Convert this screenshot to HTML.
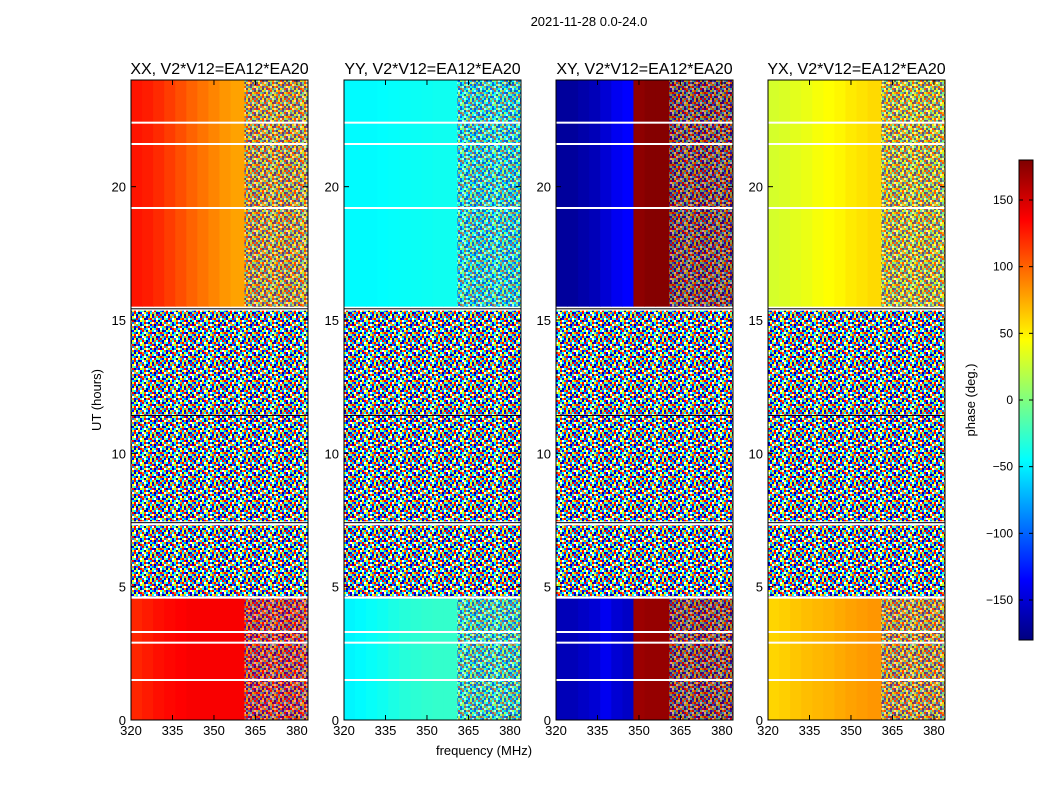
<!DOCTYPE html>
<html><head><meta charset="utf-8">
<style>
body{margin:0;background:#fff;}
svg text{font-family:"Liberation Sans",sans-serif;}
</style></head>
<body>
<svg id="fig" width="1050" height="800" viewBox="0 0 1050 800" xmlns="http://www.w3.org/2000/svg">
<defs>
<linearGradient id="jet" x1="0" y1="1" x2="0" y2="0">
<stop offset="0" stop-color="#00007f"/><stop offset="0.125" stop-color="#0000ff"/>
<stop offset="0.375" stop-color="#00ffff"/><stop offset="0.625" stop-color="#ffff00"/>
<stop offset="0.875" stop-color="#ff0000"/><stop offset="1" stop-color="#7f0000"/>
</linearGradient>
<pattern id="noise" patternUnits="userSpaceOnUse" width="32" height="24"><g id="noiseg"></g></pattern>
</defs>
<text x="589" y="26" font-size="13" text-anchor="middle">2021-11-28 0.0-24.0</text>
<text transform="translate(101,400) rotate(-90)" font-size="13" text-anchor="middle">UT (hours)</text>
<text x="484" y="755" font-size="13" text-anchor="middle">frequency (MHz)</text>
<g id="panels"></g>
<g id="cbar">
<rect x="1019" y="160" width="14" height="480" fill="url(#jet)" stroke="#000"/>
</g>
<text transform="translate(975,400) rotate(-90)" font-size="13" text-anchor="middle">phase (deg.)</text>
</svg>
<script>
const panelTitles=["XX, V2*V12=EA12*EA20","YY, V2*V12=EA12*EA20","XY, V2*V12=EA12*EA20","YX, V2*V12=EA12*EA20"];
const panelX=[131,344,556,768];
const segStart=[0,4.6,7.45,11.45,15.5];
const segEnd=[4.55,7.3,11.4,15.35,24];
const segType=["c","n","n","n","c"];
const freqBins=[320,324,328,332,336,340,344,348,352,356];
const seg0XX=[122,126,130,133,135,137,137,137,137,137];
const seg4XX=[128,125,120,114,107,100,94,88,82,78];
const seg0YY=[-48,-46,-43,-40,-36,-32,-30,-28,-27,-27];
const seg4YY=[-46,-46,-46,-45,-44,-43,-42,-41,-40,-40];
const seg0XY=[-160,-160,-155,-150,-140,-150,-155,170,172,172];
const seg4XY=[-170,-170,-165,-160,-150,-140,-135,175,178,178];
const seg0YX=[60,62,65,68,70,72,75,78,80,82];
const seg4YX=[30,32,35,38,42,45,48,52,55,58];
const coherent=[[seg0XX,seg4XX],[seg0YY,seg4YY],[seg0XY,seg4XY],[seg0YX,seg4YX]];
const whiteLines=[1.5,2.9,3.3,4.6,7.35,15.45,19.2,21.6,22.4];
const yTicks=[0,5,10,15,20];
const xTicks=[320,335,350,365,380];
const cbTicks=[-150,-100,-50,0,50,100,150];
const fringeStart=361, fMin=320, fMax=384, tMax=24;
const NS="http://www.w3.org/2000/svg";
const PW=177, PT=80, PB=720;
function jet(v){let t=(v+180)/360;t=Math.max(0,Math.min(1,t));
 const f=(x)=>Math.max(0,Math.min(1,1.5-Math.abs(4*t-x)));
 return `rgb(${Math.round(255*f(3))},${Math.round(255*f(2))},${Math.round(255*f(1))})`;}
function ys(h){return PB-(h/tMax)*(PB-PT);}
function xs(x0,f){return x0+(f-fMin)/(fMax-fMin)*PW;}
function el(tag,attrs,parent){const e=document.createElementNS(NS,tag);for(const k in attrs)e.setAttribute(k,attrs[k]);parent.appendChild(e);return e;}
const noiseStr="351627084162537062047351820473611748052637140526503261847056318228671043582160477415830261748503068352714830571642501638756210388137406512874260370428163045281765217402831607451046852374518623";
const noiseCols=["#0000ff","#0080ff","#00ffff","#80ff80","#ffff00","#ff8000","#ff0000","#0000a0","#ffffff"];
const ng=document.getElementById('noiseg');
for(let r=0;r<12;r++)for(let c=0;c<16;c++){const d=+noiseStr[(r*16+c)%noiseStr.length]||0;
 el('rect',{x:c*2,y:r*2,width:2,height:2,fill:noiseCols[d]},ng);}
const panels=document.getElementById('panels');
panelX.forEach((x0,p)=>{
 const g=el('g',{},panels);
 
 
 segStart.forEach((s,si)=>{
  const y1=ys(segEnd[si]), y2=ys(s);
  if(segType[si]==="n"){
   const r=el('rect',{x:x0,y:y1,width:PW,height:y2-y1,fill:'url(#noise)'},g);
   
   
  } else {
   const vals=coherent[p][si===0?0:1];
   freqBins.forEach((f,bi)=>{
    const fe=bi<freqBins.length-1?freqBins[bi+1]:fringeStart;
    const r=el('rect',{x:xs(x0,f),y:y1,width:xs(x0,fe)-xs(x0,f)+0.5,height:y2-y1,fill:jet(vals[bi])},g);
    
    
   });
   const last=vals[vals.length-1];
   el('rect',{x:xs(x0,fringeStart),y:y1,width:xs(x0,fMax)-xs(x0,fringeStart),height:y2-y1,fill:jet(last)},g);
   const fr=el('rect',{x:xs(x0,fringeStart),y:y1,width:xs(x0,fMax)-xs(x0,fringeStart),height:y2-y1,fill:'url(#noise)',opacity:0.6},g);
   
   
  }
 });
 whiteLines.forEach(h=>{el('rect',{x:x0,y:ys(h)-1,width:PW,height:2,fill:'#fff'},g);});
 el('rect',{x:x0,y:ys(15.42)-0.5,width:PW,height:1,fill:'#000'},g);
 el('rect',{x:x0,y:ys(7.4)-0.5,width:PW,height:1,fill:'#000'},g);
 el('rect',{x:x0,y:ys(11.42)-0.5,width:PW,height:1,fill:'#000'},g);
 el('rect',{x:x0,y:PT,width:PW,height:PB-PT,fill:'none',stroke:'#000','stroke-width':1},g);
 const t=el('text',{x:x0+PW/2,y:74,'font-size':16,'text-anchor':'middle'},g);t.textContent=panelTitles[p];
 
 
 yTicks.forEach(v=>{const y=ys(v);
  el('line',{x1:x0,x2:x0+5,y1:y,y2:y,stroke:'#000'},g);el('line',{x1:x0+PW,x2:x0+PW-5,y1:y,y2:y,stroke:'#000'},g);
  const l=el('text',{x:x0-5,y:y+5,'font-size':13,'text-anchor':'end'},g);l.textContent=v;
  
  });
 xTicks.forEach(v=>{const x=xs(x0,v);
  el('line',{x1:x,x2:x,y1:PB,y2:PB-5,stroke:'#000'},g);el('line',{x1:x,x2:x,y1:PT,y2:PT+5,stroke:'#000'},g);
  const l=el('text',{x:x,y:PB+15,'font-size':13,'text-anchor':'middle'},g);l.textContent=v;
  
  });
});
const cb=document.getElementById('cbar');
cbTicks.forEach(v=>{const y=400-v*480/360;
 el('line',{x1:1019,x2:1023,y1:y,y2:y,stroke:'#000'},cb);el('line',{x1:1033,x2:1029,y1:y,y2:y,stroke:'#000'},cb);
 const l=el('text',{x:1013,y:y+4,'font-size':12,'text-anchor':'end'},cb);l.textContent=v<0?'\u2212'+(-v):v;
 
 });
</script>
</body></html>
